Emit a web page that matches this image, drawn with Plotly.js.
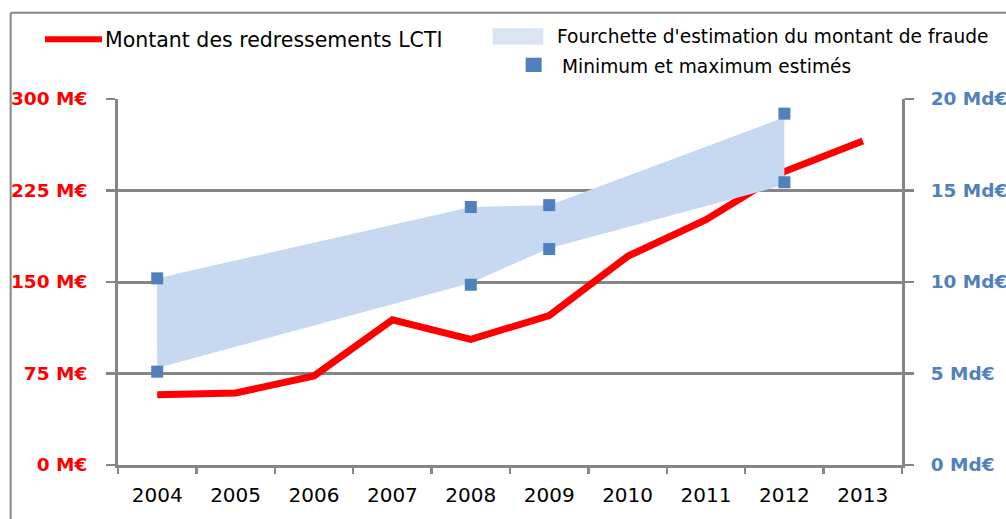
<!DOCTYPE html>
<html>
<head>
<meta charset="utf-8">
<script src="https://cdn.plot.ly/plotly-3.0.1.min.js"></script>
<style>
html,body{margin:0;padding:0;background:#fff;}
#chart{width:1006px;height:519px;}
</style>
</head>
<body>
<div id="chart"></div>
<script>
// ---- Data ----
const years = ['2004','2005','2006','2007','2008','2009','2010','2011','2012','2013'];
// Montant des redressements LCTI (M€, left axis)
const redressements = [57.5, 59, 73, 119, 103, 122.5, 171, 201, 240.5, 265.5];
// Fourchette d'estimation du montant de fraude (Md€, right axis)
const bandYears = ['2004','2008','2009','2012'];
const bandLow  = [5.3, 9.95, 11.85, 15.3];
const bandHigh = [10.2, 14.1, 14.2, 19.0];
// Minimum et maximum estimés (Md€, right axis)
const estMin = [5.1, 9.85, 11.8, 15.45];
const estMax = [10.2, 14.1, 14.2, 19.2];

const leftTicks = [0, 75, 150, 225, 300];
const leftTickText = ['0 M€','75 M€','150 M€','225 M€','300 M€'];
const rightTicks = [0, 5, 10, 15, 20];
const rightTickText = ['0 Md€','5 Md€','10 Md€','15 Md€','20 Md€'];

const legendLabels = ['Montant des redressements LCTI',
                      "Fourchette d'estimation du montant de fraude",
                      'Minimum et maximum estimés'];

const GRAY = '#868686', RED = '#FF0000', BLUE = '#4F81BD', BAND = '#C6D9F1';
const FONT = 'DejaVu Sans, Liberation Sans, sans-serif';

const traces = [
  {x: bandYears, y: bandLow, yaxis: 'y2', type: 'scatter', mode: 'lines',
   line: {width: 0, color: BAND}, showlegend: false, hoverinfo: 'skip'},
  {x: bandYears, y: bandHigh, yaxis: 'y2', type: 'scatter', mode: 'lines',
   line: {width: 0, color: BAND}, fill: 'tonexty', fillcolor: BAND,
   showlegend: false, hoverinfo: 'skip'},
  {x: years, y: redressements, type: 'scatter', mode: 'lines',
   line: {color: RED, width: 7}, showlegend: false},
  {x: bandYears, y: estMin, yaxis: 'y2', type: 'scatter', mode: 'markers',
   marker: {symbol: 'square', size: 12, color: BLUE}, showlegend: false},
  {x: bandYears, y: estMax, yaxis: 'y2', type: 'scatter', mode: 'markers',
   marker: {symbol: 'square', size: 12, color: BLUE}, showlegend: false}
];

const layout = {
  width: 1006, height: 519,
  margin: {l: 118, r: 104, t: 99, b: 54, pad: 0},
  paper_bgcolor: '#fff', plot_bgcolor: '#fff',
  showlegend: false,
  xaxis: {
    type: 'category', categoryorder: 'array', categoryarray: years,
    range: [-0.5, 9.5], showgrid: false, zeroline: false,
    showline: true, linecolor: GRAY, linewidth: 3,
    ticks: 'outside', tickson: 'boundaries', ticklen: 6, tickwidth: 2.5, tickcolor: GRAY,
    tickfont: {family: FONT, size: 20, color: '#000'},
    ticklabelstandoff: 10, automargin: false, fixedrange: true
  },
  yaxis: {
    range: [0, 300], tickmode: 'array', tickvals: leftTicks, ticktext: leftTickText,
    showline: true, linecolor: GRAY, linewidth: 3,
    showgrid: true, gridcolor: GRAY, gridwidth: 3, zeroline: false,
    ticks: 'outside', ticklen: 9, tickwidth: 2.5, tickcolor: GRAY,
    tickfont: {family: FONT, size: 18.5, color: RED, weight: 'bold'},
    ticklabelstandoff: 15, automargin: false, fixedrange: true
  },
  yaxis2: {
    overlaying: 'y', side: 'right',
    range: [0, 20], tickmode: 'array', tickvals: rightTicks, ticktext: rightTickText,
    showline: true, linecolor: GRAY, linewidth: 3,
    showgrid: false, zeroline: false,
    ticks: 'outside', ticklen: 9, tickwidth: 2.5, tickcolor: GRAY,
    tickfont: {family: FONT, size: 18.5, color: BLUE, weight: 'bold'},
    ticklabelstandoff: 13, automargin: false, fixedrange: true
  },
  shapes: [
    // outer frame
    {type: 'line', xref: 'paper', yref: 'paper', x0: -0.1369, x1: -0.1369, y0: 1.2358, y1: -0.2,
     line: {color: GRAY, width: 2}},
    {type: 'line', xref: 'paper', yref: 'paper', x0: -0.1369, x1: 1.2, y0: 1.2358, y1: 1.2358,
     line: {color: GRAY, width: 2}},
    // legend swatches
    {type: 'line', xref: 'paper', yref: 'paper', x0: -0.0931, x1: -0.0204, y0: 1.1631, y1: 1.1631,
     line: {color: RED, width: 6}},
    {type: 'rect', xref: 'paper', yref: 'paper', x0: 0.4779, x1: 0.5425, y0: 1.1484, y1: 1.1932,
     fillcolor: '#DBE5F1', line: {width: 0}},
    {type: 'rect', xref: 'paper', yref: 'paper', x0: 0.5200, x1: 0.5404, y0: 1.0738, y1: 1.1128,
     fillcolor: BLUE, line: {width: 0}}
  ],
  annotations: [
    {xref: 'paper', yref: 'paper', x: -0.0195, y: 1.1612, xanchor: 'left', yanchor: 'middle',
     text: legendLabels[0], showarrow: false, font: {family: FONT, size: 20.5, color: '#000'}},
    {xref: 'paper', yref: 'paper', x: 0.5575, y: 1.1694, xanchor: 'left', yanchor: 'middle',
     text: legendLabels[1], showarrow: false, font: {family: FONT, size: 18.6, color: '#000'}},
    {xref: 'paper', yref: 'paper', x: 0.5640, y: 1.0888, xanchor: 'left', yanchor: 'middle',
     text: legendLabels[2], showarrow: false, font: {family: FONT, size: 18.6, color: '#000'}}
  ]
};

Plotly.newPlot('chart', traces, layout, {displayModeBar: false, staticPlot: true});
</script>
</body>
</html>
